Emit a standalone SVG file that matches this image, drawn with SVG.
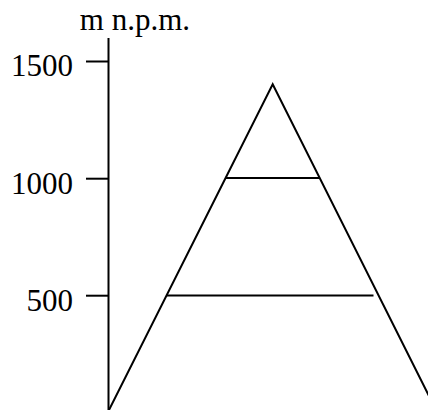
<svg xmlns="http://www.w3.org/2000/svg" width="428" height="410" viewBox="0 0 428 410">
<style>
.ln{stroke:#000;stroke-width:2;fill:none;stroke-linecap:butt}
.t{font-family:"Liberation Serif","Times New Roman",serif;font-size:31px;fill:#000}
</style>
<rect width="428" height="410" fill="#fff"/>
<g id="axis">
<line class="ln" x1="108.5" y1="38" x2="108.5" y2="410"/>
<line class="ln" x1="86" y1="61.5" x2="108.5" y2="61.5"/>
<line class="ln" x1="86" y1="178.7" x2="108.5" y2="178.7"/>
<line class="ln" x1="86" y1="295.7" x2="108.5" y2="295.7"/>
<text class="t" x="190" y="30" text-anchor="end">m n.p.m.</text>
<text class="t" x="73" y="76" text-anchor="end">1500</text>
<text class="t" x="73" y="194" text-anchor="end">1000</text>
<text class="t" x="73" y="311" text-anchor="end">500</text>
</g>
<g id="mountain">
<polyline class="ln" points="109,410 272.7,84.3 436,410"/>
<line class="ln" x1="226" y1="178" x2="319.3" y2="178"/>
<line class="ln" x1="166.7" y1="295.5" x2="373.5" y2="295.5"/>
</g>
</svg>
